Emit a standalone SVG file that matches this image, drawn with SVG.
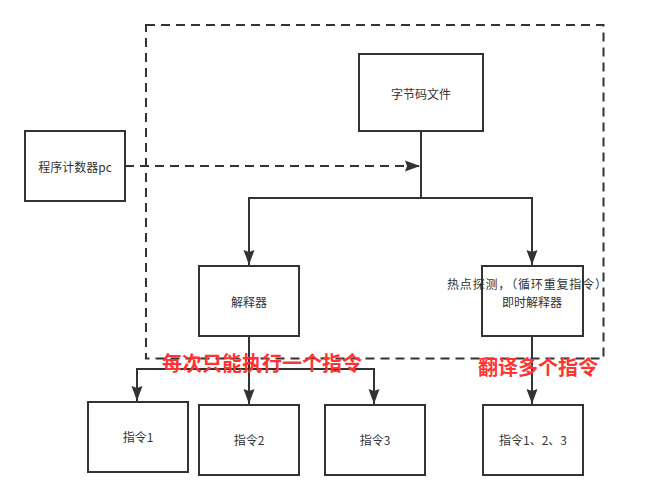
<svg xmlns="http://www.w3.org/2000/svg" width="645" height="500" viewBox="0 0 645 500">
<style>
.box{fill:#fff;stroke:#333;stroke-width:2}
.lbl{font-family:"Noto Sans CJK SC","Liberation Sans",sans-serif;font-size:12px;fill:#333;text-anchor:middle}
.red{font-family:"Noto Sans CJK SC","Liberation Sans",sans-serif;font-size:20px;font-weight:bold;fill:#FF3333;text-anchor:middle}
.edge{fill:none;stroke:#333;stroke-width:2}
.dash{stroke-dasharray:9 6}
</style>
<defs>
<marker id="arr" markerUnits="userSpaceOnUse" markerWidth="16" markerHeight="12" viewBox="0 0 16 12" refX="15" refY="6" orient="auto">
<path d="M0,0.5 L15,6 L0,11.5 L2,6 Z" fill="#333"/>
</marker>
</defs>
<rect id="container" x="146" y="25" width="457.5" height="333.5" fill="none" stroke="#333" stroke-width="2" stroke-dasharray="9 6"/>
<g id="connectors">
<path class="edge dash" d="M125,166 H420" marker-end="url(#arr)"/>
<path class="edge" d="M421,131 V198 H249 V265" marker-end="url(#arr)"/>
<path class="edge" d="M421,198 H532 V265" marker-end="url(#arr)"/>
<path class="edge" d="M249,336 V404" marker-end="url(#arr)"/>
<path class="edge" d="M249,369 H137 V401" marker-end="url(#arr)"/>
<path class="edge" d="M249,369 H374 V404" marker-end="url(#arr)"/>
<path class="edge" d="M532,336 V404" marker-end="url(#arr)"/>
</g>
<g id="pc">
<rect class="box" x="25" y="131" width="100" height="70"/>
<text class="lbl" x="75" y="172">程序计数器pc</text>
</g>
<g id="bytecode">
<rect class="box" x="359" y="54" width="124" height="77"/>
<text class="lbl" x="421" y="99">字节码文件</text>
</g>
<g id="interpreter">
<rect class="box" x="199" y="266" width="100" height="70"/>
<text class="lbl" x="249" y="307">解释器</text>
</g>
<g id="jit">
<rect class="box" x="482" y="266" width="101" height="70"/>
<text class="lbl" x="527" y="289" textLength="160" lengthAdjust="spacing">热点探测，（循环重复指令）</text>
<text class="lbl" x="532" y="307">即时解释器</text>
</g>
<g id="ins1">
<rect class="box" x="88" y="402" width="100" height="70"/>
<text class="lbl" x="138" y="442">指令1</text>
</g>
<g id="ins2">
<rect class="box" x="199" y="405" width="100" height="70"/>
<text class="lbl" x="249" y="445">指令2</text>
</g>
<g id="ins3">
<rect class="box" x="325" y="405" width="100" height="70"/>
<text class="lbl" x="375" y="445">指令3</text>
</g>
<g id="ins123">
<rect class="box" x="483" y="405" width="100" height="70"/>
<text class="lbl" x="533" y="445">指令1、2、3</text>
</g>
<g id="notes">
<text class="red" x="262" y="371">每次只能执行一个指令</text>
<text class="red" x="538" y="375">翻译多个指令</text>
</g>
</svg>
